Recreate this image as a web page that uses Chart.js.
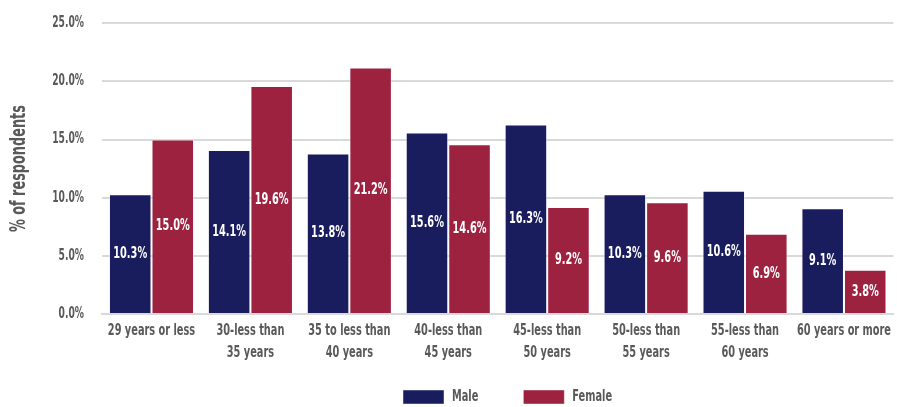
<!DOCTYPE html>
<html>
<head>
<meta charset="utf-8">
<script src="https://cdn.jsdelivr.net/npm/chart.js@4/dist/chart.umd.min.js"></script>
<style>
  html, body { margin: 0; padding: 0; background: #fff; }
  #wrap { width: 897px; height: 407px; }
</style>
</head>
<body>
<div id="wrap"><canvas id="chartAge"></canvas></div>
<script>
var ageGroups = [
    ["29 years or less"],
    ["30-less than", "35 years"],
    ["35 to less than", "40 years"],
    ["40-less than", "45 years"],
    ["45-less than", "50 years"],
    ["50-less than", "55 years"],
    ["55-less than", "60 years"],
    ["60 years or more"],
];
var male = [10.3, 14.1, 13.8, 15.6, 16.3, 10.3, 10.6, 9.1];
var female = [15.0, 19.6, 21.2, 14.6, 9.2, 9.6, 6.9, 3.8];
var yTicks = [0, 5, 10, 15, 20, 25];

var fontFamily = "'DejaVu Sans Condensed', 'DejaVu Sans', sans-serif";
var boldNarrow = "bold condensed";
var grey = "#595959";
var squeeze = 0.68;

// squeeze all text horizontally for a tall, narrow look
var narrowText = {
    id: "narrowText",
    beforeInit: function (chart) {
        var ctx = chart.ctx;
        var fill = ctx.fillText.bind(ctx);
        var measure = ctx.measureText.bind(ctx);
        ctx.fillText = function (text, x, y, maxWidth) {
            ctx.save();
            ctx.translate(x, y);
            ctx.scale(squeeze, 1);
            if (maxWidth !== undefined) {
                fill(text, 0, 0, maxWidth / squeeze);
            } else {
                fill(text, 0, 0);
            }
            ctx.restore();
        };
        ctx.measureText = function (text) {
            var m = measure(text);
            return { width: m.width * squeeze };
        };
    },
    // legend sits lower, partly in the empty band under the axis labels,
    // and is centred under the plot rather than the whole canvas
    afterLayout: function (chart) {
        var lg = chart.legend;
        lg.top -= 26;
        lg.bottom = chart.height;
        lg.left = chart.chartArea.left + 16;
    },
};

// white value labels in the middle of each bar
var barLabels = {
    id: "barLabels",
    afterDatasetsDraw: function (chart) {
        var ctx = chart.ctx;
        ctx.save();
        ctx.fillStyle = "#ffffff";
        ctx.font = boldNarrow + " 16px " + fontFamily;
        ctx.textAlign = "center";
        ctx.textBaseline = "middle";
        chart.data.datasets.forEach(function (ds, i) {
            chart.getDatasetMeta(i).data.forEach(function (bar, j) {
                var mid = (bar.y + bar.base) / 2;
                ctx.fillText(ds.data[j].toFixed(1) + "%", bar.x, mid);
            });
        });
        ctx.restore();
    },
};

var ctxAge = document.getElementById("chartAge").getContext("2d");
var chart1 = new Chart(ctxAge, {
    type: "bar",
    data: {
        labels: ageGroups,
        datasets: [{
            label: "Male",
            backgroundColor: "#191c5d",
            borderColor: "rgba(255, 255, 255, 0.45)",
            borderWidth: 1,
            data: male,
        }, {
            label: "Female",
            backgroundColor: "#9c2240",
            borderColor: "rgba(255, 255, 255, 0.45)",
            borderWidth: 1,
            data: female,
        }],
    },
    options: {
        responsive: true,
        maintainAspectRatio: false,
        animation: false,
        layout: { padding: { left: 3, right: 0, top: 0, bottom: 0 } },
        datasets: {
            bar: { categoryPercentage: 0.86, barPercentage: 1.0 },
        },
        scales: {
            x: {
                grid: { display: false, drawTicks: false },
                border: { color: "#d9d9d9", width: 2 },
                ticks: {
                    color: grey,
                    font: { family: fontFamily, size: 16, weight: boldNarrow, lineHeight: 1.375 },
                    maxRotation: 0,
                    autoSkip: false,
                    padding: 6,
                },
            },
            y: {
                min: 0,
                max: 25,
                afterBuildTicks: function (axis) {
                    axis.ticks = yTicks.map(function (v) { return { value: v }; });
                },
                grid: { color: "#d9d9d9", lineWidth: 2, drawTicks: false },
                border: { display: false },
                ticks: {
                    color: grey,
                    font: { family: fontFamily, size: 15, weight: boldNarrow, lineHeight: 0.7 },
                    padding: 18,
                    callback: function (v) { return v.toFixed(1) + "%"; },
                },
                title: {
                    display: true,
                    text: "% of respondents",
                    color: grey,
                    font: { family: fontFamily, size: 21, weight: boldNarrow },
                    padding: { top: 4, bottom: 2 },
                },
            },
        },
        plugins: {
            legend: {
                position: "bottom",
                maxHeight: 37,
                labels: {
                    color: grey,
                    font: { family: fontFamily, size: 16, weight: boldNarrow },
                    boxWidth: 41,
                    boxHeight: 14,
                    padding: 45,
                },
            },
            tooltip: { enabled: false },
        },
    },
    plugins: [narrowText, barLabels],
});
</script>
</body>
</html>
